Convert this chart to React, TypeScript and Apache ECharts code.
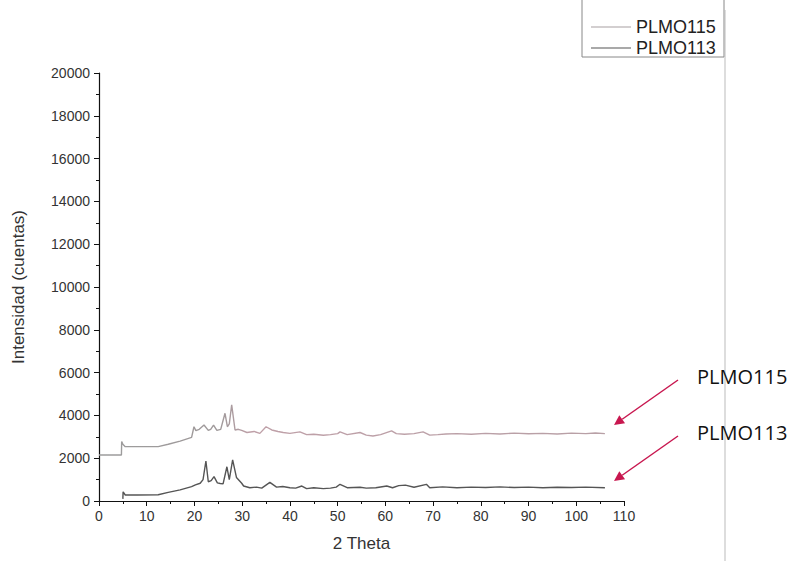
import React, { useEffect, useRef } from "react";
import * as echarts from "echarts";

const theta115 = [0, 4.7, 4.75, 5.0, 5.5, 8, 12.4, 14.5, 17, 19.4, 19.9, 20.3, 21.0, 22.0, 22.9, 23.4, 24.0, 24.7, 25.5, 26.4, 26.9, 27.3, 27.8, 28.5, 29.2, 29.9, 31, 32.5, 33.7, 35, 36.2, 37.5, 38.6, 40, 42.1, 43.5, 45, 47, 48.5, 50, 50.5, 52, 54.7, 56, 57.4, 59, 61.3, 62.3, 64, 66, 67.9, 69.3, 71, 72.7, 75, 78, 81, 84, 87, 90, 93, 96, 99, 102, 104, 106];
const int115 = [2150, 2150, 2780, 2650, 2540, 2540, 2540, 2650, 2800, 2975, 3470, 3290, 3350, 3550, 3300, 3350, 3550, 3300, 3350, 4100, 3470, 3600, 4490, 3320, 3350, 3300, 3200, 3250, 3160, 3470, 3320, 3250, 3200, 3160, 3230, 3100, 3120, 3070, 3100, 3150, 3230, 3100, 3200, 3080, 3040, 3100, 3280, 3150, 3120, 3150, 3230, 3080, 3100, 3130, 3150, 3120, 3160, 3130, 3170, 3140, 3160, 3130, 3170, 3150, 3180, 3150];

const theta113 = [5.0, 5.05, 5.5, 8, 12.4, 14.5, 17, 19.4, 20.2, 21.2, 21.8, 22.4, 22.9, 23.5, 24.1, 24.8, 25.4, 26.0, 26.8, 27.3, 28.0, 28.8, 29.9, 30.3, 31.6, 33, 34.1, 35.8, 37.2, 38.5, 40, 41.2, 42.5, 43.5, 45, 47, 48.5, 49.7, 50.5, 52, 54.7, 56, 58, 60.3, 61.5, 62.8, 64.2, 66, 68.6, 69.3, 72, 75, 78, 81, 84, 87, 90, 93, 96, 99, 102, 106];
const int113 = [100, 430, 280, 280, 290, 400, 520, 670, 750, 830, 1000, 1870, 900, 950, 1140, 850, 820, 800, 1600, 1000, 1920, 1100, 830, 700, 620, 650, 600, 870, 650, 680, 620, 600, 700, 580, 620, 580, 600, 650, 780, 620, 640, 600, 620, 700, 620, 720, 740, 640, 780, 620, 660, 620, 650, 630, 660, 630, 650, 620, 640, 630, 650, 620];

const seriesNames = ["PLMO115", "PLMO113"];
const annotations = ["PLMO115", "PLMO113"];

export default function App() {
  const ref = useRef<HTMLDivElement>(null);
  useEffect(() => {
    if (!ref.current) return;
    const chart = echarts.init(ref.current, undefined, { renderer: "svg" });
    const font = "Liberation Sans";
    const red = "#c8174f";
    const arrow = (x1: number, y1: number, x2: number, y2: number) => {
      const ang = Math.atan2(y2 - y1, x2 - x1);
      const L = 10, W = 5;
      const bx = x2 - L * Math.cos(ang), by = y2 - L * Math.sin(ang);
      const px = -Math.sin(ang) * W, py = Math.cos(ang) * W;
      return [
        { type: "line", shape: { x1, y1, x2: bx, y2: by }, style: { stroke: red, lineWidth: 1.5 } },
        { type: "polygon", shape: { points: [[x2, y2], [bx + px, by + py], [bx - px, by - py]] }, style: { fill: red } },
      ];
    };
    chart.setOption({
      animation: false,
      backgroundColor: "#fff",
      grid: { left: 99, right: 174, top: 73, bottom: 60 },
      legend: {
        orient: "vertical",
        left: 586,
        top: 13,
        itemWidth: 40,
        itemHeight: 1.2,
        itemGap: 3,
        icon: "rect",
        data: seriesNames,
        textStyle: { fontFamily: font, fontSize: 18, color: "#222", padding: [0, 0, 0, 0] },
      },
      xAxis: {
        type: "value",
        min: 0,
        max: 110,
        interval: 10,
        name: "2 Theta",
        nameLocation: "middle",
        nameGap: 34,
        nameTextStyle: { fontFamily: font, fontSize: 17, color: "#333" },
        axisLine: { show: true, lineStyle: { color: "#111", width: 1.2 } },
        axisTick: { show: true, length: 5, lineStyle: { color: "#111" } },
        minorTick: { show: true, splitNumber: 2, length: 3, lineStyle: { color: "#111" } },
        splitLine: { show: false },
        axisLabel: { fontFamily: font, fontSize: 14, color: "#333", margin: 8 },
      },
      yAxis: {
        type: "value",
        min: 0,
        max: 20000,
        interval: 2000,
        name: "Intensidad (cuentas)",
        nameLocation: "middle",
        nameGap: 72,
        nameTextStyle: { fontFamily: font, fontSize: 17, color: "#333" },
        axisLine: { show: true, lineStyle: { color: "#111", width: 1.2 } },
        axisTick: { show: true, length: 5, lineStyle: { color: "#111" } },
        minorTick: { show: true, splitNumber: 2, length: 3, lineStyle: { color: "#111" } },
        splitLine: { show: false },
        axisLabel: { fontFamily: font, fontSize: 14, color: "#333", margin: 9, formatter: (v: number) => String(v) },
      },
      series: [
        {
          name: seriesNames[0],
          type: "line",
          symbol: "none",
          color: "#a8a0a2",
          lineStyle: {
            width: 1.4,
            color: new echarts.graphic.LinearGradient(0, 0, 1, 0, [
              { offset: 0, color: "#9c9c9c" },
              { offset: 0.24, color: "#a09a9b" },
              { offset: 0.3, color: "#bfa0a8" },
              { offset: 1, color: "#b8a0a6" },
            ]),
          },
          data: theta115.map((t, i) => [t, int115[i]]),
        },
        {
          name: seriesNames[1],
          type: "line",
          symbol: "none",
          color: "#555",
          lineStyle: { width: 1.4, color: "#555" },
          data: theta113.map((t, i) => [t, int113[i]]),
        },
      ],
      graphic: [
        { type: "rect", shape: { x: 582, y: -5, width: 142, height: 62 }, style: { fill: "none", stroke: "#888", lineWidth: 1 }, z: -1 },
        { type: "line", shape: { x1: 725, y1: 10, x2: 725, y2: 561 }, style: { stroke: "#bbb", lineWidth: 1 } },
        { type: "text", x: 697, y: 376, style: { text: annotations[0], fontFamily: "Open Sans", fontSize: 20, fill: "#111", verticalAlign: "middle" } },
        { type: "text", x: 697, y: 432, style: { text: annotations[1], fontFamily: "Open Sans", fontSize: 20, fill: "#111", verticalAlign: "middle" } },
        ...arrow(678, 380, 614, 425),
        ...arrow(678, 436, 614, 481),
      ],
    });
    return () => chart.dispose();
  }, []);
  return <div ref={ref} style={{ width: 798, height: 561, position: "absolute", left: 0, top: 0 }} />;
}
